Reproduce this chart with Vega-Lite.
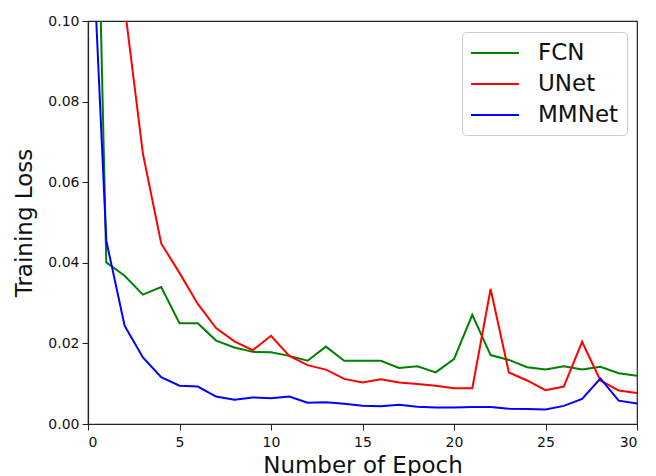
{
  "$schema": "https://vega.github.io/schema/vega-lite/v6.json",
  "width": 549,
  "height": 403,
  "autosize": "none",
  "padding": {"left": 88, "top": 21, "right": 19, "bottom": 52},
  "config": {
    "font": "DejaVu Sans",
    "view": {"stroke": "#222", "strokeWidth": 1.2},
    "axis": {
      "domainColor": "#222", "domainWidth": 1.2, "tickColor": "#222", "tickSize": 6,
      "labelColor": "#111", "labelFontSize": 14, "titleFontSize": 23, "titleFontWeight": "normal",
      "titleColor": "#111", "grid": false, "labelFont": "DejaVu Sans", "titleFont": "DejaVu Sans"
    }
  },
  "data": {
    "values": [
      {"epoch": 0, "model": "FCN", "loss": 0.24},
      {"epoch": 1, "model": "FCN", "loss": 0.0401},
      {"epoch": 2, "model": "FCN", "loss": 0.0368},
      {"epoch": 3, "model": "FCN", "loss": 0.0321},
      {"epoch": 4, "model": "FCN", "loss": 0.0340},
      {"epoch": 5, "model": "FCN", "loss": 0.0250},
      {"epoch": 6, "model": "FCN", "loss": 0.0250},
      {"epoch": 7, "model": "FCN", "loss": 0.0207},
      {"epoch": 8, "model": "FCN", "loss": 0.0190},
      {"epoch": 9, "model": "FCN", "loss": 0.0179},
      {"epoch": 10, "model": "FCN", "loss": 0.0178},
      {"epoch": 11, "model": "FCN", "loss": 0.0169},
      {"epoch": 12, "model": "FCN", "loss": 0.0157},
      {"epoch": 13, "model": "FCN", "loss": 0.0192},
      {"epoch": 14, "model": "FCN", "loss": 0.0157},
      {"epoch": 15, "model": "FCN", "loss": 0.0157},
      {"epoch": 16, "model": "FCN", "loss": 0.0157},
      {"epoch": 17, "model": "FCN", "loss": 0.0139},
      {"epoch": 18, "model": "FCN", "loss": 0.0143},
      {"epoch": 19, "model": "FCN", "loss": 0.0128},
      {"epoch": 20, "model": "FCN", "loss": 0.0161},
      {"epoch": 21, "model": "FCN", "loss": 0.0271},
      {"epoch": 22, "model": "FCN", "loss": 0.0171},
      {"epoch": 23, "model": "FCN", "loss": 0.0159},
      {"epoch": 24, "model": "FCN", "loss": 0.0141},
      {"epoch": 25, "model": "FCN", "loss": 0.0135},
      {"epoch": 26, "model": "FCN", "loss": 0.0143},
      {"epoch": 27, "model": "FCN", "loss": 0.0135},
      {"epoch": 28, "model": "FCN", "loss": 0.0142},
      {"epoch": 29, "model": "FCN", "loss": 0.0126},
      {"epoch": 30, "model": "FCN", "loss": 0.0120},
      {"epoch": 0, "model": "UNet", "loss": 0.35},
      {"epoch": 1, "model": "UNet", "loss": 0.18},
      {"epoch": 2, "model": "UNet", "loss": 0.1037},
      {"epoch": 3, "model": "UNet", "loss": 0.0671},
      {"epoch": 4, "model": "UNet", "loss": 0.0448},
      {"epoch": 5, "model": "UNet", "loss": 0.0375},
      {"epoch": 6, "model": "UNet", "loss": 0.0298},
      {"epoch": 7, "model": "UNet", "loss": 0.0238},
      {"epoch": 8, "model": "UNet", "loss": 0.0205},
      {"epoch": 9, "model": "UNet", "loss": 0.0183},
      {"epoch": 10, "model": "UNet", "loss": 0.0219},
      {"epoch": 11, "model": "UNet", "loss": 0.0169},
      {"epoch": 12, "model": "UNet", "loss": 0.0146},
      {"epoch": 13, "model": "UNet", "loss": 0.0135},
      {"epoch": 14, "model": "UNet", "loss": 0.0112},
      {"epoch": 15, "model": "UNet", "loss": 0.0103},
      {"epoch": 16, "model": "UNet", "loss": 0.0111},
      {"epoch": 17, "model": "UNet", "loss": 0.0103},
      {"epoch": 18, "model": "UNet", "loss": 0.0099},
      {"epoch": 19, "model": "UNet", "loss": 0.0095},
      {"epoch": 20, "model": "UNet", "loss": 0.0089},
      {"epoch": 21, "model": "UNet", "loss": 0.0089},
      {"epoch": 22, "model": "UNet", "loss": 0.0335},
      {"epoch": 23, "model": "UNet", "loss": 0.0128},
      {"epoch": 24, "model": "UNet", "loss": 0.0108},
      {"epoch": 25, "model": "UNet", "loss": 0.0084},
      {"epoch": 26, "model": "UNet", "loss": 0.0093},
      {"epoch": 27, "model": "UNet", "loss": 0.0204},
      {"epoch": 28, "model": "UNet", "loss": 0.0108},
      {"epoch": 29, "model": "UNet", "loss": 0.0083},
      {"epoch": 30, "model": "UNet", "loss": 0.0077},
      {"epoch": 0, "model": "MMNet", "loss": 0.145},
      {"epoch": 1, "model": "MMNet", "loss": 0.0455},
      {"epoch": 2, "model": "MMNet", "loss": 0.0244},
      {"epoch": 3, "model": "MMNet", "loss": 0.0165},
      {"epoch": 4, "model": "MMNet", "loss": 0.0116},
      {"epoch": 5, "model": "MMNet", "loss": 0.0095},
      {"epoch": 6, "model": "MMNet", "loss": 0.0093},
      {"epoch": 7, "model": "MMNet", "loss": 0.0068},
      {"epoch": 8, "model": "MMNet", "loss": 0.0060},
      {"epoch": 9, "model": "MMNet", "loss": 0.0066},
      {"epoch": 10, "model": "MMNet", "loss": 0.0064},
      {"epoch": 11, "model": "MMNet", "loss": 0.0068},
      {"epoch": 12, "model": "MMNet", "loss": 0.0053},
      {"epoch": 13, "model": "MMNet", "loss": 0.0054},
      {"epoch": 14, "model": "MMNet", "loss": 0.0050},
      {"epoch": 15, "model": "MMNet", "loss": 0.0045},
      {"epoch": 16, "model": "MMNet", "loss": 0.0044},
      {"epoch": 17, "model": "MMNet", "loss": 0.0048},
      {"epoch": 18, "model": "MMNet", "loss": 0.0043},
      {"epoch": 19, "model": "MMNet", "loss": 0.0041},
      {"epoch": 20, "model": "MMNet", "loss": 0.0041},
      {"epoch": 21, "model": "MMNet", "loss": 0.0042},
      {"epoch": 22, "model": "MMNet", "loss": 0.0042},
      {"epoch": 23, "model": "MMNet", "loss": 0.0038},
      {"epoch": 24, "model": "MMNet", "loss": 0.0037},
      {"epoch": 25, "model": "MMNet", "loss": 0.0036},
      {"epoch": 26, "model": "MMNet", "loss": 0.0045},
      {"epoch": 27, "model": "MMNet", "loss": 0.0062},
      {"epoch": 28, "model": "MMNet", "loss": 0.0113},
      {"epoch": 29, "model": "MMNet", "loss": 0.0058},
      {"epoch": 30, "model": "MMNet", "loss": 0.0051}
    ]
  },
  "mark": {"type": "line", "clip": true, "strokeWidth": 2},
  "encoding": {
    "x": {
      "field": "epoch", "type": "quantitative",
      "scale": {"domain": [0, 30], "nice": false, "zero": false},
      "axis": {"values": [0, 5, 10, 15, 20, 25, 30], "title": "Number of Epoch", "titlePadding": 5, "labelPadding": 5}
    },
    "y": {
      "field": "loss", "type": "quantitative",
      "scale": {"domain": [0, 0.1], "nice": false},
      "axis": {"values": [0, 0.02, 0.04, 0.06, 0.08, 0.1], "format": ".2f", "title": "Training Loss", "titlePadding": 11, "labelPadding": 3}
    },
    "color": {
      "field": "model", "type": "nominal",
      "scale": {"domain": ["FCN", "UNet", "MMNet"], "range": ["#008000", "#ff0000", "#0000ff"]},
      "legend": {
        "title": null, "orient": "none", "legendX": 374, "legendY": 11,
        "symbolType": "M-1,0H3", "symbolSize": 576, "symbolStrokeWidth": 2,
        "labelFontSize": 23, "labelColor": "#111", "labelOffset": 42, "rowPadding": 6,
        "fillColor": "white", "strokeColor": "#ccc", "cornerRadius": 4, "padding": 8
      }
    },
    "order": {"field": "epoch", "type": "quantitative"}
  }
}
